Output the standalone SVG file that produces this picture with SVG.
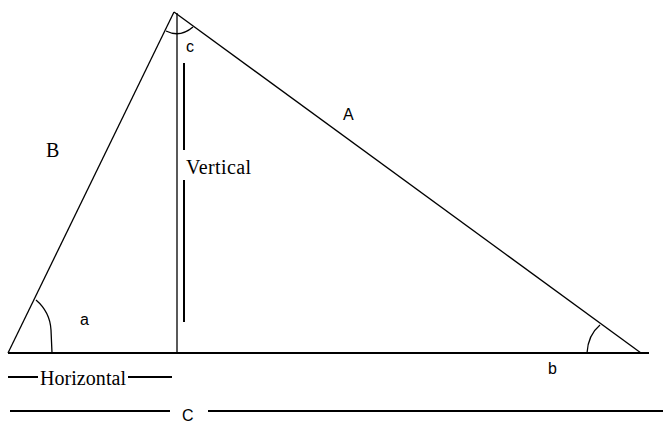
<svg xmlns="http://www.w3.org/2000/svg" width="663" height="423" viewBox="0 0 663 423">
<style>
.ln{stroke:#000;stroke-width:1.3;fill:none}
.base{stroke:#000;stroke-width:2;fill:none}
.serif{font-family:"Liberation Serif","Times New Roman",serif;font-size:20px;fill:#000}
.sans{font-family:"Liberation Sans",Arial,sans-serif;font-size:16px;fill:#000}
</style>
<rect width="663" height="423" fill="#fff"/>
<g id="triangle">
<line class="ln" x1="8" y1="353" x2="174" y2="12"/>
<line class="ln" x1="174" y1="12" x2="641" y2="353"/>
<line class="base" x1="8" y1="353" x2="649" y2="353"/>
<line class="ln" x1="177" y1="13" x2="177" y2="353"/>
</g>
<g id="angles">
<path class="ln" d="M36,300 Q50,312 51,330 L52,353"/>
<path class="ln" d="M600,325 Q588,335 587,353"/>
<path class="ln" d="M166,31 Q180,38 193,27"/>
</g>
<g id="vertical-dim">
<line class="base" x1="184" y1="63" x2="184" y2="150"/>
<line class="base" x1="184" y1="180" x2="184" y2="322"/>
<text class="serif" x="186" y="174" textLength="65">Vertical</text>
</g>
<g id="horizontal-dim">
<line class="base" x1="8" y1="377" x2="38" y2="377"/>
<text class="serif" x="40" y="385" textLength="86">Horizontal</text>
<line class="base" x1="128" y1="377" x2="172" y2="377"/>
</g>
<g id="c-dim">
<line class="base" x1="10" y1="411" x2="170" y2="411"/>
<text class="sans" x="182" y="421">C</text>
<line class="base" x1="208" y1="411" x2="663" y2="411"/>
</g>
<g id="labels">
<text class="sans" x="186" y="52">c</text>
<text class="sans" x="343" y="120">A</text>
<text class="serif" x="46" y="157">B</text>
<text class="sans" x="80" y="325">a</text>
<text class="sans" x="548" y="374">b</text>
</g>
</svg>
